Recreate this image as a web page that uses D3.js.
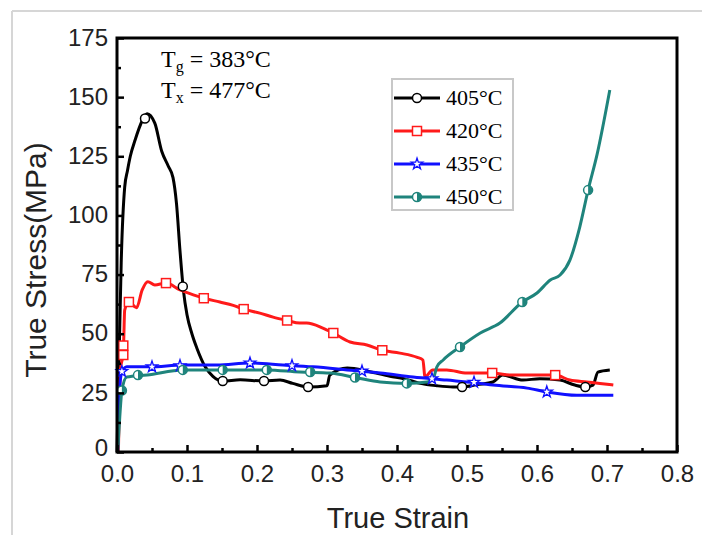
<!DOCTYPE html>
<html><head><meta charset="utf-8">
<script src="https://cdn.jsdelivr.net/npm/d3@7"></script>
<style>body{margin:0;background:#fff;}svg{display:block;}</style>
</head><body>
<script>
// ---- data ----
const seriesNames = ["405°C", "420°C", "435°C", "450°C"];
const xTicks = [0, 0.1, 0.2, 0.3, 0.4, 0.5, 0.6, 0.7, 0.8];
const yTicks = [0, 25, 50, 75, 100, 125, 150, 175];

const strain405 = [0, 0.003, 0.006, 0.011, 0.015, 0.019, 0.026, 0.036, 0.043, 0.054, 0.064, 0.073, 0.08, 0.085, 0.09, 0.095, 0.1, 0.107, 0.114, 0.126, 0.137, 0.151, 0.176, 0.21, 0.233, 0.251, 0.273, 0.3, 0.304, 0.329, 0.36, 0.39, 0.41, 0.433, 0.457, 0.48, 0.493, 0.515, 0.537, 0.551, 0.58, 0.604, 0.633, 0.654, 0.669, 0.68, 0.687, 0.704];
const stress405 = [0, 40, 80, 112, 119, 125, 132, 140, 143, 139, 127, 121, 116, 105, 85, 68, 58, 50, 44, 36, 32, 30, 30.5, 30, 30.4, 29, 27.5, 28, 32.5, 35.5, 34, 32, 31, 29, 28, 27.5, 27.5, 28.5, 29.6, 32.5, 30.4, 31, 30.4, 28.3, 27.5, 28.3, 33.8, 34.7];
const mark405X = [0.04, 0.094, 0.151, 0.21, 0.273, 0.493, 0.669];
const mark405Y = [141, 70, 30, 30, 27.5, 27.5, 27.5];

const strain420 = [0.002, 0.005, 0.009, 0.011, 0.017, 0.028, 0.036, 0.044, 0.054, 0.07, 0.09, 0.109, 0.124, 0.147, 0.166, 0.181, 0.204, 0.223, 0.243, 0.261, 0.271, 0.294, 0.309, 0.333, 0.357, 0.379, 0.404, 0.429, 0.437, 0.44, 0.451, 0.471, 0.5, 0.519, 0.536, 0.561, 0.594, 0.626, 0.647, 0.671, 0.69, 0.709];
const stress420 = [0, 35, 42, 60, 63.4, 61, 68.5, 72, 70.6, 71.4, 68.5, 66.4, 65, 63.4, 62, 60.4, 58.7, 57, 55.6, 54.5, 54.5, 52.4, 50.3, 46.5, 45.2, 43, 41.8, 40, 38.9, 31.7, 34.7, 34.7, 33.4, 33.4, 33.4, 32.5, 32.5, 32.5, 30.4, 29.6, 29, 28.3];
const mark420X = [0.009, 0.009, 0.017, 0.07, 0.124, 0.181, 0.243, 0.309, 0.379, 0.536, 0.626];
const mark420Y = [45, 41, 63.4, 71.4, 65, 60.4, 55.6, 50.3, 43, 33.4, 32.5];

const strain435 = [0.001, 0.004, 0.007, 0.014, 0.047, 0.094, 0.143, 0.19, 0.237, 0.28, 0.329, 0.376, 0.423, 0.471, 0.519, 0.537, 0.586, 0.614, 0.657, 0.709];
const stress435 = [0, 28, 33.8, 36, 36, 36.8, 36.8, 37.6, 36.8, 36, 34.7, 33.4, 31.7, 30.4, 29, 28.3, 27, 25.4, 24, 24];
const mark435X = [0.007, 0.05, 0.09, 0.19, 0.25, 0.35, 0.45, 0.51, 0.614];
const mark435Y = [34, 36, 36.5, 37.6, 36.5, 34.2, 31, 29.5, 25.4];

const strain450 = [0.001, 0.004, 0.007, 0.014, 0.043, 0.094, 0.151, 0.214, 0.261, 0.304, 0.343, 0.376, 0.414, 0.443, 0.451, 0.457, 0.466, 0.49, 0.519, 0.547, 0.579, 0.6, 0.619, 0.633, 0.647, 0.661, 0.673, 0.686, 0.704];
const stress450 = [0, 15, 26, 31.7, 32.5, 34.7, 34.7, 34.7, 33.8, 33.4, 31.3, 29.6, 29, 29.6, 30.4, 36, 38.9, 44.4, 50.3, 54.5, 63.4, 67.2, 72.7, 74.8, 81.1, 95, 110.7, 126, 153];
const mark450X = [0.007, 0.03, 0.094, 0.151, 0.214, 0.276, 0.34, 0.414, 0.49, 0.579, 0.673];
const mark450Y = [26, 32.5, 34.7, 34.7, 34.7, 33.8, 31.5, 29, 44.4, 63.4, 110.7];

const colors = ["#000000", "#ff1a1a", "#1010ff", "#1f847c"];
const markerTypes = ["circle", "square", "star", "half"];

// ---- layout ----
const W = 702, H = 535;
const L = 117, R = 677, T = 38, B = 452;

const svg = d3.select("body").append("svg").attr("width", W).attr("height", H);

// light gray outer border
svg.append("line").attr("x1", 12).attr("x2", W).attr("y1", 11).attr("y2", 11).attr("stroke", "#d6d6d6").attr("stroke-width", 2);
svg.append("line").attr("x1", 12).attr("x2", 12).attr("y1", 11).attr("y2", H).attr("stroke", "#d6d6d6").attr("stroke-width", 2);

const x = d3.scaleLinear().domain([0, 0.8]).range([L, R]);
const y = d3.scaleLinear().domain([0, 175]).range([B, T]);

// curves
const zipS = (xs, ys) => xs.map((v, i) => [v, ys[i]]);
const series = [
  {line: zipS(strain405, stress405), marks: zipS(mark405X, mark405Y)},
  {line: zipS(strain420, stress420), marks: zipS(mark420X, mark420Y)},
  {line: zipS(strain435, stress435), marks: zipS(mark435X, mark435Y)},
  {line: zipS(strain450, stress450), marks: zipS(mark450X, mark450Y)}
];
const lineGen = d3.line().x(d => x(d[0])).y(d => y(d[1])).curve(d3.curveMonotoneX);

const plot = svg.append("g");
function drawMarker(g, type, color, cx, cy) {
  if (type === "circle") {
    g.append("circle").attr("cx", cx).attr("cy", cy).attr("r", 4.5).attr("fill", "#fff").attr("stroke", color).attr("stroke-width", 1.5);
  } else if (type === "square") {
    g.append("rect").attr("x", cx - 4.5).attr("y", cy - 4.5).attr("width", 9).attr("height", 9).attr("fill", "#fff").attr("stroke", color).attr("stroke-width", 1.5);
  } else if (type === "star") {
    g.append("path").attr("transform", `translate(${cx},${cy})`).attr("d", d3.symbol(d3.symbolStar, 40)()).attr("fill", "#fff").attr("stroke", color).attr("stroke-width", 1.3);
  } else {
    g.append("circle").attr("cx", cx).attr("cy", cy).attr("r", 4.5).attr("fill", "#fff").attr("stroke", color).attr("stroke-width", 1.5);
    g.append("path").attr("transform", `translate(${cx},${cy})`).attr("d", d3.arc()({innerRadius: 0, outerRadius: 4.5, startAngle: 0, endAngle: Math.PI})).attr("fill", color);
  }
}
series.forEach((s, i) => {
  plot.append("path").datum(s.line).attr("d", lineGen).attr("fill", "none").attr("stroke", colors[i]).attr("stroke-width", 3).attr("stroke-linejoin", "round");
});
series.forEach((s, i) => {
  s.marks.forEach(m => drawMarker(plot, markerTypes[i], colors[i], x(m[0]), y(m[1])));
});

// frame
svg.append("rect").attr("x", L).attr("y", T).attr("width", R - L).attr("height", B - T).attr("fill", "none").attr("stroke", "#000").attr("stroke-width", 3);

// axes
const fontSans = "Liberation Sans, Arial, sans-serif";
const xAxis = svg.append("g").attr("transform", `translate(0,${B})`)
  .call(d3.axisBottom(x).tickValues(xTicks).tickFormat(d3.format(".1f")).tickSize(-7).tickPadding(10));
const xMinor = svg.append("g").attr("transform", `translate(0,${B})`)
  .call(d3.axisBottom(x).tickValues(d3.range(0.05, 0.8, 0.1)).tickFormat("").tickSize(-4));
const yAxis = svg.append("g").attr("transform", `translate(${L},0)`)
  .call(d3.axisLeft(y).tickValues(yTicks).tickSize(-7).tickPadding(10));
const yMinor = svg.append("g").attr("transform", `translate(${L},0)`)
  .call(d3.axisLeft(y).tickValues(d3.range(12.5, 175, 25)).tickFormat("").tickSize(-4));
[xAxis, xMinor, yAxis, yMinor].forEach(a => {
  a.select(".domain").remove();
  a.selectAll("line").attr("stroke", "#000").attr("stroke-width", 2.5);
  a.selectAll("text").attr("font-family", fontSans).attr("font-size", 24).attr("fill", "#222");
});
xAxis.selectAll("text").attr("dy", "0.71em").attr("y", 13);
yAxis.selectAll("text").attr("x", -9).attr("dy", "0.3em").attr("y", d => d === 0 ? -4 : 0);

// axis titles
svg.append("text").attr("x", 398).attr("y", 528).attr("text-anchor", "middle")
  .attr("font-family", fontSans).attr("font-size", 29).attr("fill", "#222").text("True Strain");
svg.append("text").attr("transform", "translate(46,260) rotate(-90)").attr("text-anchor", "middle")
  .attr("font-family", fontSans).attr("font-size", 30).attr("fill", "#222").text("True Stress(MPa)");

// annotation
const serif = "Liberation Serif, Times New Roman, serif";
const ann = svg.append("g").attr("font-family", serif).attr("font-size", 24).attr("fill", "#000");
const t1 = ann.append("text").attr("x", 161).attr("y", 67);
t1.append("tspan").text("T");
t1.append("tspan").attr("font-size", 16).attr("dy", 5).text("g");
t1.append("tspan").attr("dy", -5).text(" = 383°C");
const t2 = ann.append("text").attr("x", 161).attr("y", 98);
t2.append("tspan").text("T");
t2.append("tspan").attr("font-size", 16).attr("dy", 5).text("x");
t2.append("tspan").attr("dy", -5).text(" = 477°C");

// legend
const lg = svg.append("g");
lg.append("rect").attr("x", 392).attr("y", 79).attr("width", 121).attr("height", 131).attr("fill", "#fff").attr("stroke", "#c8c8c8").attr("stroke-width", 2);
seriesNames.forEach((name, i) => {
  const cy = 98 + i * 33;
  lg.append("line").attr("x1", 394).attr("x2", 440).attr("y1", cy).attr("y2", cy).attr("stroke", colors[i]).attr("stroke-width", 3);
  drawMarker(lg, markerTypes[i], colors[i], 417, cy);
  lg.append("text").attr("x", 446).attr("y", cy + 7).attr("font-family", serif).attr("font-size", 22).attr("fill", "#000").text(name);
});
</script>
</body></html>
